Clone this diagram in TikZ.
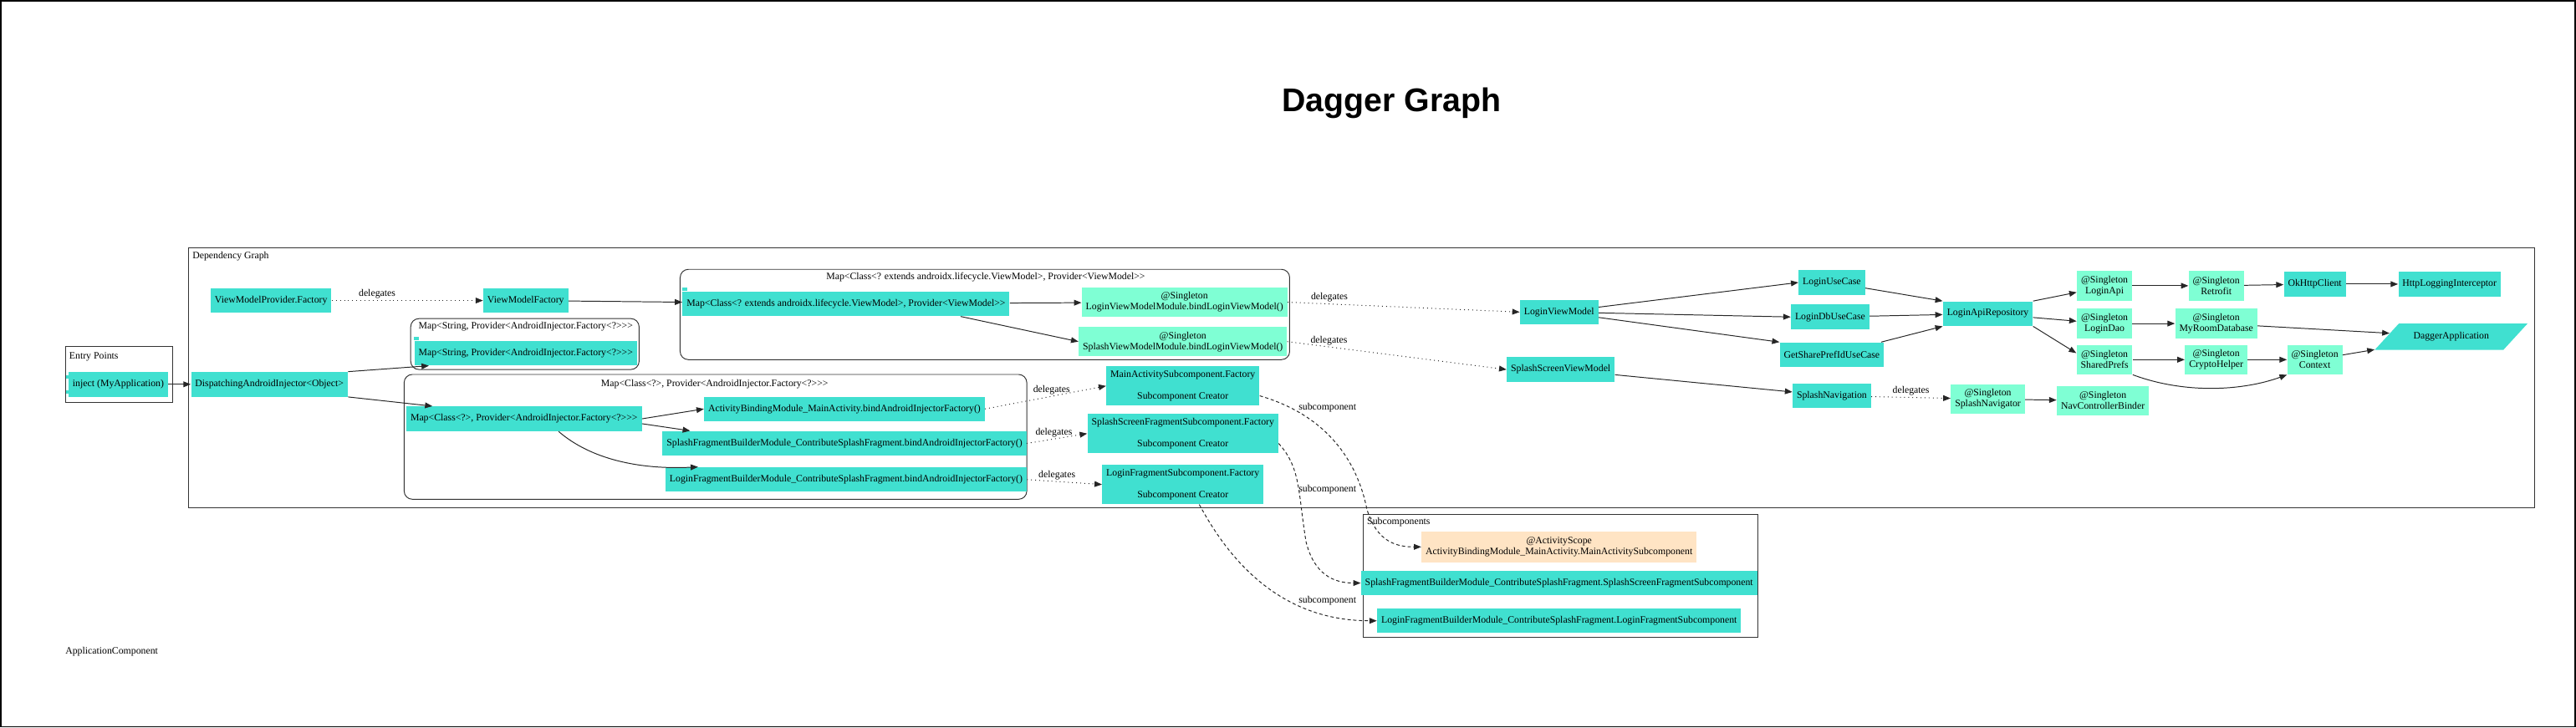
\documentclass[tikz,border=0pt]{standalone}
\usepackage{fontspec}
\setmainfont{Liberation Serif}[Ligatures=TeXOff]
\newfontfamily\titlefont{Liberation Sans}
\usepackage{tikz}
\usetikzlibrary{shapes.geometric, arrows.meta}
\definecolor{turq}{HTML}{40E0D0}
\definecolor{aqua}{HTML}{7FFFD4}
\definecolor{bisq}{HTML}{FFE4C4}

\begin{document}
\begin{tikzpicture}[x=1pt, y=-1pt,
    every node/.style={font=\fontsize{6}{6.6}\selectfont},
    dep/.style={rectangle, fill=turq, inner xsep=2.5pt, inner ysep=1pt, minimum height=15pt, align=center},
    sing/.style={dep, fill=aqua, minimum height=18pt},
    actscope/.style={dep, fill=bisq, minimum height=19pt},
    fac/.style={dep, minimum height=24pt},
    app/.style={trapezium, trapezium left angle=45, trapezium right angle=135, trapezium stretches=true,
        fill=turq, minimum width=93pt, minimum height=16pt},
    clus/.style={draw=black!80, line width=0.5pt},
    lbl/.style={inner sep=1pt},
    arr/.style={draw=black!85, line width=0.5pt, -{Triangle[length=4.5pt, width=3.5pt]}},
    dlg/.style={arr, dotted},
    subc/.style={arr, dash pattern=on 2pt off 1.5pt}]
            % Frame and title
            \useasboundingbox (0,0) rectangle (1568,443);
            \draw[line width=0.8pt] (0.4,0.4) rectangle (1567.6,442.6);
            \node[font=\titlefont\bfseries\fontsize{20}{24}\selectfont, anchor=base] (title) at (847,68) {Dagger Graph};
            \node (applbl) at (68,397) {ApplicationComponent};
            % Clusters
            \draw[clus] (115,151) rectangle (1543,309);
            \node[lbl, anchor=west] (depslbl) at (116,156) {Dependency Graph};
            \draw[clus] (40,211) rectangle (105,245);
            \node[lbl, anchor=west] (entrylbl) at (41,217) {Entry Points};
            \draw[clus, rounded corners=5pt] (414,164) rectangle (785,219);
            \node[lbl] (mapvmlbl) at (600,169) {Map<Class<? extends androidx.lifecycle.ViewModel>, Provider<ViewModel>>};
            \draw[clus, rounded corners=5pt] (250,194) rectangle (389,225);
            \node[lbl] (mapstrlbl) at (320,199) {Map<String, Provider<AndroidInjector.Factory<?>>>};
            \draw[clus, rounded corners=5pt] (246,228) rectangle (625,304);
            \node[lbl] (mapclslbl) at (435,234) {Map<Class<?>, Provider<AndroidInjector.Factory<?>>>};
            \draw[clus] (830,313) rectangle (1070,388);
            \node[lbl, anchor=west] (subslbl) at (831,318) {Subcomponents};
            % Nodes
            \node[dep] (inject) at (72,234) {inject (MyApplication)};
            \node[dep] (disp) at (164,234) {DispatchingAndroidInjector<Object>};
            \node[dep] (vmp) at (165,183) {ViewModelProvider.Factory};
            \node[dep] (vmf) at (320,183) {ViewModelFactory};
            \node[dep] (mapvm) at (515,185) {Map<Class<? extends androidx.lifecycle.ViewModel>, Provider<ViewModel>>};
            \node[sing] (lvmm) at (721,184) {@Singleton\\LoginViewModelModule.bindLoginViewModel()};
            \node[sing] (svmm) at (720,208) {@Singleton\\SplashViewModelModule.bindLoginViewModel()};
            \node[dep] (mapstr) at (320,215) {Map<String, Provider<AndroidInjector.Factory<?>>>};
            \node[dep] (mapcls) at (319,255) {Map<Class<?>, Provider<AndroidInjector.Factory<?>>>};
            \node[dep] (ab) at (514,249) {ActivityBindingModule\_MainActivity.bindAndroidInjectorFactory()};
            \node[dep] (sfb) at (514,270) {SplashFragmentBuilderModule\_ContributeSplashFragment.bindAndroidInjectorFactory()};
            \node[dep] (lfb) at (515,292) {LoginFragmentBuilderModule\_ContributeSplashFragment.bindAndroidInjectorFactory()};
            \node[fac] (mf) at (720,235) {MainActivitySubcomponent.Factory\\[7pt]Subcomponent Creator};
            \node[fac] (sf) at (720,264) {SplashScreenFragmentSubcomponent.Factory\\[7pt]Subcomponent Creator};
            \node[fac] (lf) at (720,295) {LoginFragmentSubcomponent.Factory\\[7pt]Subcomponent Creator};
            \node[dep] (lvm) at (949,190) {LoginViewModel};
            \node[dep] (svm) at (950,225) {SplashScreenViewModel};
            \node[dep] (luc) at (1115,172) {LoginUseCase};
            \node[dep] (ldb) at (1114,193) {LoginDbUseCase};
            \node[dep] (gsp) at (1115,216) {GetSharePrefIdUseCase};
            \node[dep] (repo) at (1210,191) {LoginApiRepository};
            \node[dep] (snav) at (1115,241) {SplashNavigation};
            \node[sing] (snavr) at (1210,243) {@Singleton\\SplashNavigator};
            \node[sing] (ncb) at (1280,244) {@Singleton\\NavControllerBinder};
            \node[sing] (lapi) at (1281,174) {@Singleton\\LoginApi};
            \node[sing] (ldao) at (1281,197) {@Singleton\\LoginDao};
            \node[sing] (sprefs) at (1281,219) {@Singleton\\SharedPrefs};
            \node[sing] (retro) at (1349,174) {@Singleton\\Retrofit};
            \node[sing] (room) at (1349,197) {@Singleton\\MyRoomDatabase};
            \node[sing] (crypto) at (1349,219) {@Singleton\\CryptoHelper};
            \node[dep] (okhttp) at (1409,173) {OkHttpClient};
            \node[dep] (http) at (1491,173) {HttpLoggingInterceptor};
            \node[sing] (ctx) at (1409,219) {@Singleton\\Context};
            \node[app] (dapp) at (1492,205) {DaggerApplication};
            \node[actscope] (msub) at (949,333) {@ActivityScope\\ActivityBindingModule\_MainActivity.MainActivitySubcomponent};
            \node[dep] (ssub) at (949,355) {SplashFragmentBuilderModule\_ContributeSplashFragment.SplashScreenFragmentSubcomponent};
            \node[dep] (lsub) at (949,378) {LoginFragmentBuilderModule\_ContributeSplashFragment.LoginFragmentSubcomponent};
            % Tabs and notches
            \fill[turq] (mapvm.north west) rectangle ++(3,-2);
            \fill[turq] (mapstr.north west) rectangle ++(3,-2);
            \fill[turq] ([xshift=-1.5pt, yshift=-2pt]inject.north west) rectangle ++(3,2);
            \fill[turq] ([xshift=-1.5pt, yshift=2pt]inject.south west) rectangle ++(3,-2);
            % Connections
            \draw[arr] (inject) -- (disp);
            \draw[arr] (disp.north east) -- ([xshift=9pt]mapstr.south west);
            \draw[arr] (disp.south east) -- ([xshift=16pt]mapcls.north west);
            \draw[dlg] (vmp) -- (vmf) node[lbl, pos=0.3, above] {delegates};
            \draw[arr] (vmf) -- (mapvm);
            \draw[arr] (mapvm) -- (lvmm);
            \draw[arr] ([xshift=-30pt]mapvm.south east) -- (svmm.west);
            \draw[dlg] (lvmm.east) -- (lvm.west) node[lbl, pos=0.18, above] {delegates};
            \draw[dlg] (svmm.east) -- (svm.west) node[lbl, pos=0.19, above] {delegates};
            \draw[arr] (mapcls.east) -- (ab.west);
            \draw[arr] ([yshift=-3pt]mapcls.east) -- ([xshift=17pt]sfb.north west);
            \draw[arr] ([xshift=21pt]mapcls.south) .. controls (360,280) and (390,286) .. ([xshift=20pt]lfb.north west);
            \draw[dlg] (ab.east) -- (mf.west) node[lbl, pos=0.55, above] {delegates};
            \draw[dlg] (sfb.east) -- (sf.west) node[lbl, pos=0.45, above] {delegates};
            \draw[dlg] (lfb.east) -- (lf.west) node[lbl, pos=0.4, above] {delegates};
            \draw[subc] ([yshift=-6pt]mf.east) .. controls (815,255) and (828,290) .. (832,310) .. controls (838,330) and (850,333) .. (msub.west);
            \node[lbl] (sublbla) at (808,248) {subcomponent};
            \draw[subc] ([yshift=-6pt]sf.east) .. controls (792,285) and (790,300) .. (795,330) .. controls (800,350) and (812,355) .. (ssub.west);
            \node[lbl] (sublblb) at (808,298) {subcomponent};
            \draw[subc] ([xshift=10pt]lf.south) .. controls (745,335) and (775,378) .. (lsub.west);
            \node[lbl] (sublblc) at (808,366) {subcomponent};
            \draw[arr] (lvm) -- (luc.west);
            \draw[arr] (lvm) -- (ldb.west);
            \draw[arr] (lvm) -- (gsp.north west);
            \draw[arr] (luc) -- (repo.north west);
            \draw[arr] (ldb) -- (repo);
            \draw[arr] (gsp) -- (repo.south west);
            \draw[arr] (repo.north east) -- ([yshift=-4pt]lapi.west);
            \draw[arr] (repo) -- (ldao);
            \draw[arr] (repo.south east) -- ([yshift=4pt]sprefs.west);
            \draw[arr] (lapi) -- (retro);
            \draw[arr] (retro) -- (okhttp);
            \draw[arr] (okhttp) -- (http);
            \draw[arr] (ldao) -- (room);
            \draw[arr] (room) -- (dapp);
            \draw[arr] (sprefs) -- (crypto);
            \draw[arr] (crypto) -- (ctx);
            \draw[arr] (sprefs.south east) .. controls (1330,240) and (1365,238) .. (ctx.south west);
            \draw[arr] (ctx) -- (dapp);
            \draw[arr] (svm) -- (snav);
            \draw[dlg] (snav) -- (snavr) node[lbl, pos=0.5, above] {delegates};
            \draw[arr] (snavr) -- (ncb);
        \end{tikzpicture}
\end{document}
